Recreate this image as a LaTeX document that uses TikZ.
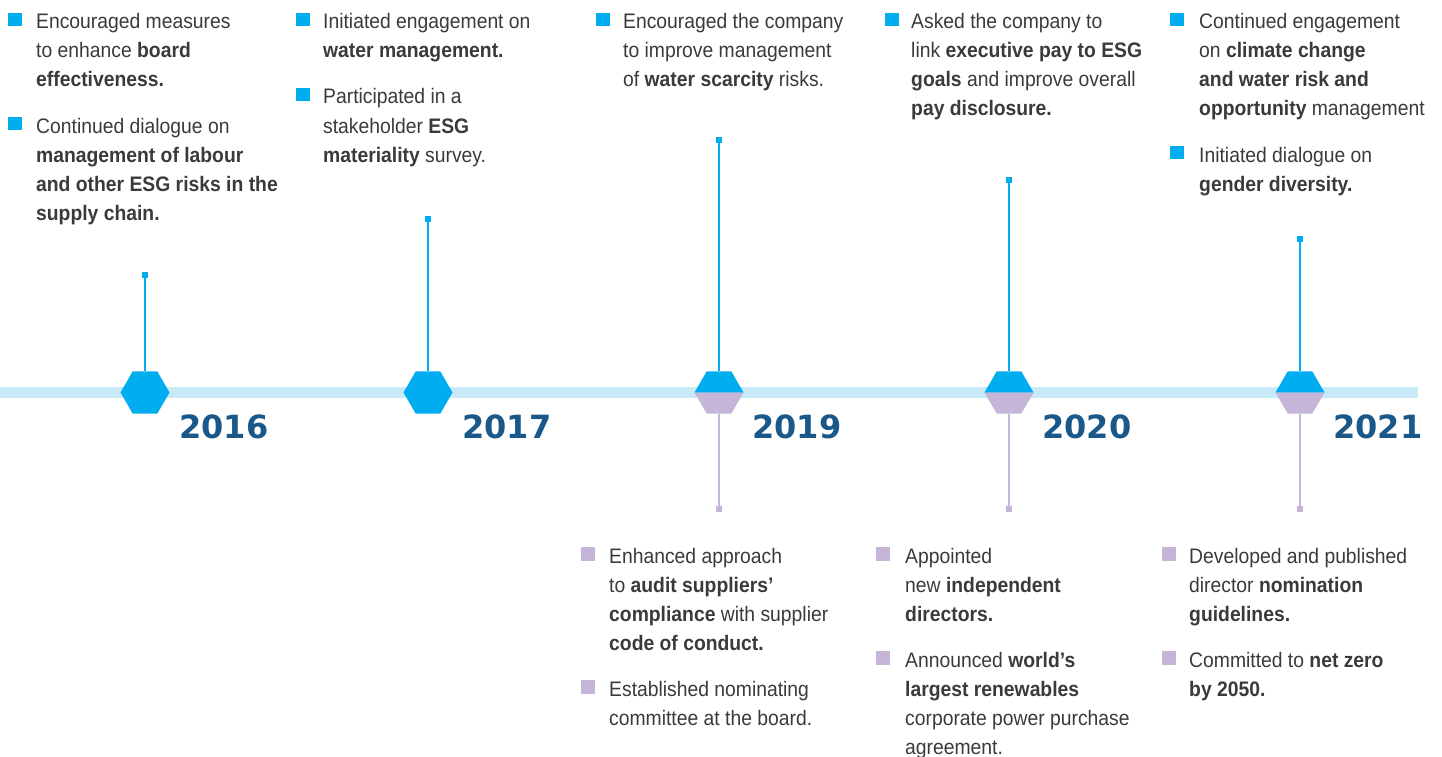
\documentclass[tikz,border=0pt]{standalone}
\usepackage{fontspec}
\setmainfont{Liberation Sans}[FakeStretch=0.92]
\newfontfamily\yearfont{DejaVu Sans}

\definecolor{cyanc}{HTML}{00AEEF}
\definecolor{lilac}{HTML}{C4B5D9}
\definecolor{barblue}{HTML}{C7E9F8}
\definecolor{yearblue}{HTML}{1A5889}
\definecolor{textgray}{HTML}{3A3A3A}

% hexagon marker, full cyan
\newcommand\fullhex[2]{%
  \begin{scope}[shift={(#2,392.5)}]
    \fill[cyanc] (-24.5,0) -- (-12.25,-21.2) -- (12.25,-21.2) -- (24.5,0)
      -- (12.25,21.2) -- (-12.25,21.2) -- cycle;
    \coordinate (#1top) at (0,-21.2);
    \coordinate (#1bot) at (0,21.2);
  \end{scope}}
% hexagon marker, cyan upper half and lilac lower half
\newcommand\splithex[2]{%
  \begin{scope}[shift={(#2,392.5)}]
    \fill[cyanc] (-24.5,0) -- (-12.25,-21.2) -- (12.25,-21.2) -- (24.5,0) -- cycle;
    \fill[lilac] (-24.5,0) -- (24.5,0) -- (12.25,21.2) -- (-12.25,21.2) -- cycle;
    \coordinate (#1top) at (0,-21.2);
    \coordinate (#1bot) at (0,21.2);
  \end{scope}}
% one line of text, baseline at the given point
\newcommand\tl[4]{\node[txt] (#1) at (#2,#3) {#4};}

\begin{document}
\begin{tikzpicture}[x=1pt,y=-1pt,
  txt/.style={anchor=base west, inner sep=0pt, text=textgray,
    font=\fontsize{21}{29}\selectfont},
  bulcyan/.style={fill=cyanc, minimum width=14pt, minimum height=13.5pt, inner sep=0pt},
  bullilac/.style={fill=lilac, minimum width=14pt, minimum height=13.5pt, inner sep=0pt},
  capcyan/.style={fill=cyanc, minimum size=6pt, inner sep=0pt},
  caplilac/.style={fill=lilac, minimum size=6pt, inner sep=0pt},
  stemcyan/.style={draw=cyanc, line width=1.5pt},
  stemlilac/.style={draw=lilac, line width=1.5pt},
  year/.style={anchor=base west, inner sep=0pt, text=yearblue,
    font=\yearfont\bfseries\fontsize{32}{32}\selectfont}
]
\useasboundingbox (0,0) rectangle (1442,757);

% timeline bar
\fill[barblue] (0,387) rectangle (1418,398);

% stems and end caps
\node[capcyan] (t16) at (145,275) {};
\node[capcyan] (t17) at (428,219) {};
\node[capcyan] (t19) at (719,140) {};
\node[capcyan] (t20) at (1009,180) {};
\node[capcyan] (t21) at (1300,239) {};
\node[caplilac] (b19) at (719,509) {};
\node[caplilac] (b20) at (1009,509) {};
\node[caplilac] (b21) at (1300,509) {};

% year markers
\fullhex{h16}{145}
\fullhex{h17}{428}
\splithex{h19}{719}
\splithex{h20}{1009}
\splithex{h21}{1300}

\draw[stemcyan] (t16.center) -- (h16top);
\draw[stemcyan] (t17.center) -- (h17top);
\draw[stemcyan] (t19.center) -- (h19top);
\draw[stemcyan] (t20.center) -- (h20top);
\draw[stemcyan] (t21.center) -- (h21top);
\draw[stemlilac] (h19bot) -- (b19.center);
\draw[stemlilac] (h20bot) -- (b20.center);
\draw[stemlilac] (h21bot) -- (b21.center);

% year labels
\node[year] (y16) at (179,438) {2016};
\node[year] (y17) at (462,438) {2017};
\node[year] (y19) at (752,438) {2019};
\node[year] (y20) at (1042,438) {2020};
\node[year] (y21) at (1333,438) {2021};

% 2016
\node[bulcyan] (k16a) at (15,19.5) {};
\tl{l16a1}{36}{29}{Encouraged measures}
\tl{l16a2}{36}{58}{to enhance \textbf{board}}
\tl{l16a3}{36}{87}{\textbf{effectiveness.}}
\node[bulcyan] (k16b) at (15,123.5) {};
\tl{l16b1}{36}{133}{Continued dialogue on}
\tl{l16b2}{36}{162}{\textbf{management of labour}}
\tl{l16b3}{36}{191}{\textbf{and other ESG risks in the}}
\tl{l16b4}{36}{220}{\textbf{supply chain.}}

% 2017
\node[bulcyan] (k17a) at (303,19.5) {};
\tl{l17a1}{323}{29}{Initiated engagement on}
\tl{l17a2}{323}{58}{\textbf{water management.}}
\node[bulcyan] (k17b) at (303,94.5) {};
\tl{l17b1}{323}{104}{Participated in a}
\tl{l17b2}{323}{133}{stakeholder \textbf{ESG}}
\tl{l17b3}{323}{162}{\textbf{materiality} survey.}

% 2019, upper
\node[bulcyan] (k19a) at (603,19.5) {};
\tl{l19a1}{623}{29}{Encouraged the company}
\tl{l19a2}{623}{58}{to improve management}
\tl{l19a3}{623}{87}{of \textbf{water scarcity} risks.}

% 2020, upper
\node[bulcyan] (k20a) at (892,19.5) {};
\tl{l20a1}{911}{29}{Asked the company to}
\tl{l20a2}{911}{58}{link \textbf{executive pay to ESG}}
\tl{l20a3}{911}{87}{\textbf{goals} and improve overall}
\tl{l20a4}{911}{116}{\textbf{pay disclosure.}}

% 2021, upper
\node[bulcyan] (k21a) at (1177,19.5) {};
\tl{l21a1}{1199}{29}{Continued engagement}
\tl{l21a2}{1199}{58}{on \textbf{climate change}}
\tl{l21a3}{1199}{87}{\textbf{and water risk and}}
\tl{l21a4}{1199}{116}{\textbf{opportunity} management}
\node[bulcyan] (k21b) at (1177,152.5) {};
\tl{l21b1}{1199}{162}{Initiated dialogue on}
\tl{l21b2}{1199}{191}{\textbf{gender diversity.}}

% 2019, lower
\node[bullilac] (m19a) at (588,554) {};
\tl{n19a1}{609}{563}{Enhanced approach}
\tl{n19a2}{609}{592}{to \textbf{audit suppliers’}}
\tl{n19a3}{609}{621}{\textbf{compliance} with supplier}
\tl{n19a4}{609}{650}{\textbf{code of conduct.}}
\node[bullilac] (m19b) at (588,687) {};
\tl{n19b1}{609}{696}{Established nominating}
\tl{n19b2}{609}{725}{committee at the board.}

% 2020, lower
\node[bullilac] (m20a) at (883,554) {};
\tl{n20a1}{905}{563}{Appointed}
\tl{n20a2}{905}{592}{new \textbf{independent}}
\tl{n20a3}{905}{621}{\textbf{directors.}}
\node[bullilac] (m20b) at (883,658) {};
\tl{n20b1}{905}{667}{Announced \textbf{world’s}}
\tl{n20b2}{905}{696}{\textbf{largest renewables}}
\tl{n20b3}{905}{725}{corporate power purchase}
\tl{n20b4}{905}{754}{agreement.}

% 2021, lower
\node[bullilac] (m21a) at (1169,554) {};
\tl{n21a1}{1189}{563}{Developed and published}
\tl{n21a2}{1189}{592}{director \textbf{nomination}}
\tl{n21a3}{1189}{621}{\textbf{guidelines.}}
\node[bullilac] (m21b) at (1169,658) {};
\tl{n21b1}{1189}{667}{Committed to \textbf{net zero}}
\tl{n21b2}{1189}{696}{\textbf{by 2050.}}
\end{tikzpicture}
\end{document}
